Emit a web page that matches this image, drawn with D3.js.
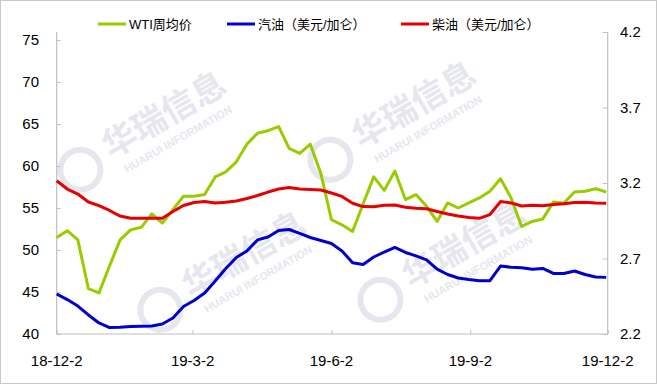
<!DOCTYPE html>
<html>
<head>
<meta charset="utf-8">
<script src="https://cdn.jsdelivr.net/npm/d3@7"></script>
<style>
  html, body { margin: 0; padding: 0; background: #fff; }
  svg { display: block; font-family: "Liberation Sans", Arial, "Noto Sans CJK SC", sans-serif; }
</style>
</head>
<body>
<div id="chart"></div>
<script>
// weekly series, first week 2018-12-02
const startDate = new Date(2018, 11, 2)

const wti = [
  51.5, 52.3, 51.2, 45.4, 44.9, 48.1, 51.2, 52.4, 52.7, 54.3,
  53.2, 54.8, 56.4, 56.4, 56.6, 58.7, 59.3, 60.5, 62.6, 63.9,
  64.2, 64.7, 62.1, 61.5, 62.6, 59.1, 53.6, 53.0, 52.2, 55.5,
  58.7, 57.1, 59.4, 56.0, 56.6, 55.2, 53.4, 55.6, 55.0, 55.6,
  56.2, 57.0, 58.5, 56.2, 52.8, 53.4, 53.7, 55.7, 55.6, 56.9,
  57.0, 57.3, 56.9
]

const gasoline = [
  2.465, 2.428, 2.385, 2.326, 2.273, 2.243, 2.244, 2.250, 2.251, 2.253,
  2.266, 2.306, 2.382, 2.422, 2.472, 2.551, 2.634, 2.707, 2.750, 2.823,
  2.842, 2.885, 2.892, 2.866, 2.839, 2.819, 2.799, 2.750, 2.672, 2.660,
  2.710, 2.743, 2.773, 2.740, 2.717, 2.691, 2.630, 2.594, 2.571, 2.561,
  2.553, 2.553, 2.650, 2.642, 2.639, 2.629, 2.634, 2.601, 2.601, 2.617,
  2.594, 2.577, 2.575
]

const diesel = [
  3.215, 3.160, 3.127, 3.074, 3.050, 3.018, 2.981, 2.966, 2.966, 2.966,
  2.966, 3.011, 3.051, 3.071, 3.077, 3.068, 3.072, 3.081, 3.097, 3.117,
  3.140, 3.160, 3.170, 3.160, 3.157, 3.154, 3.134, 3.111, 3.066, 3.044,
  3.043, 3.053, 3.054, 3.039, 3.033, 3.029, 3.011, 2.995, 2.981, 2.972,
  2.966, 2.991, 3.077, 3.068, 3.048, 3.052, 3.049, 3.058, 3.062, 3.071,
  3.072, 3.068, 3.066
]

const leftTicks = [40, 45, 50, 55, 60, 65, 70, 75]
const rightTicks = [2.2, 2.7, 3.2, 3.7, 4.2]
const xTicks = [new Date(2018, 11, 2), new Date(2019, 2, 2), new Date(2019, 5, 2), new Date(2019, 8, 2), new Date(2019, 11, 2)]

const seriesNames = ["WTI周均价", "汽油（美元/加仑）", "柴油（美元/加仑）"]
const colors = ["#99cc00", "#0000cc", "#e60000"]

const width = 657, height = 384
const plotLeft = 56.7, plotRight = 607.7, plotTop = 32, plotBottom = 334
const axisColor = "#bfbfbf"

const svg = d3.select("#chart").append("svg")
  .attr("width", width)
  .attr("height", height)

// frame
svg.append("rect")
  .attr("x", 0.5).attr("y", 0.5)
  .attr("width", width - 1).attr("height", height - 1)
  .attr("fill", "#fff")
  .attr("stroke", "#c8c8c8")

// faint watermark
const marks = [[170, 125], [420, 115], [250, 265], [470, 255]]
const wm = svg.append("g").attr("fill", "#e6e7ee")
marks.forEach(([mx, my]) => {
  const g = wm.append("g").attr("transform", `translate(${mx},${my}) rotate(-30)`)
  g.append("text").text("华瑞信息")
    .attr("text-anchor", "middle")
    .attr("font-size", 34).attr("font-weight", "bold")
  g.append("text").text("HUARUI INFORMATION")
    .attr("text-anchor", "middle").attr("y", 20)
    .attr("font-size", 11).attr("font-weight", "bold")
  g.append("circle").attr("cx", -100).attr("cy", -6).attr("r", 20)
    .attr("fill", "none").attr("stroke", "#e6e7ee").attr("stroke-width", 6)
})

const dates = wti.map((d, i) => d3.timeDay.offset(startDate, 7 * i))

const x = d3.scaleTime()
  .domain([xTicks[0], xTicks[xTicks.length - 1]])
  .range([plotLeft, plotRight])

const yL = d3.scaleLinear()
  .domain([40, 75])
  .range([plotBottom, 40])

const yR = d3.scaleLinear()
  .domain([2.2, 4.2])
  .range([plotBottom, plotTop])

const fmt = d3.timeFormat("%y-%-m-%-d")

// axes
const gx = svg.append("g")
  .attr("transform", `translate(0,${plotBottom})`)
  .call(d3.axisTop(x).tickValues(xTicks).tickSize(4).tickFormat(""))

svg.append("g").selectAll("text")
  .data(xTicks)
  .join("text")
  .attr("x", d => x(d))
  .attr("y", 366)
  .attr("text-anchor", "middle")
  .attr("font-size", 15)
  .attr("fill", "#000")
  .text(fmt)

const gl = svg.append("g")
  .attr("transform", `translate(${plotLeft},0)`)
  .call(d3.axisRight(yL).tickValues(leftTicks).tickSize(4).tickFormat(""))

svg.append("g").selectAll("text")
  .data(leftTicks)
  .join("text")
  .attr("x", 39)
  .attr("y", d => yL(d))
  .attr("dy", "0.35em")
  .attr("text-anchor", "end")
  .attr("font-size", 15)
  .text(d => d)

const gr = svg.append("g")
  .attr("transform", `translate(${plotRight},0)`)
  .call(d3.axisLeft(yR).tickValues(rightTicks).tickSize(5).tickFormat(""))

svg.append("g").selectAll("text")
  .data(rightTicks)
  .join("text")
  .attr("x", 620)
  .attr("y", d => yR(d))
  .attr("dy", "0.35em")
  .attr("font-size", 15)
  .text(d => d.toFixed(1))

for (const g of [gx, gl, gr]) {
  g.select(".domain").remove()
  g.selectAll("line").attr("stroke", axisColor)
}
// axis lines (left axis runs up to the plot top)
svg.append("path")
  .attr("d", `M${plotLeft},${plotTop}V${plotBottom}H${plotRight}V${plotTop}`)
  .attr("fill", "none")
  .attr("stroke", axisColor)
  .attr("stroke-width", 1.2)

// lines
const lineL = d3.line().x((d, i) => x(dates[i])).y(d => yL(d))
const lineR = d3.line().x((d, i) => x(dates[i])).y(d => yR(d))

const lines = [[wti, lineL], [gasoline, lineR], [diesel, lineR]]
lines.forEach(([vals, gen], k) => {
  svg.append("path")
    .datum(vals)
    .attr("d", gen)
    .attr("fill", "none")
    .attr("stroke", colors[k])
    .attr("stroke-width", 3)
    .attr("stroke-linejoin", "round")
})

// legend
const legendX = [98, 227, 401]
const legend = svg.append("g")
seriesNames.forEach((name, k) => {
  legend.append("line")
    .attr("x1", legendX[k]).attr("x2", legendX[k] + 28)
    .attr("y1", 24).attr("y2", 24)
    .attr("stroke", colors[k])
    .attr("stroke-width", 3)
  legend.append("text")
    .attr("x", legendX[k] + 31)
    .attr("y", 24)
    .attr("dy", "0.36em")
    .attr("font-size", 13)
    .text(name)
})
</script>
</body>
</html>
